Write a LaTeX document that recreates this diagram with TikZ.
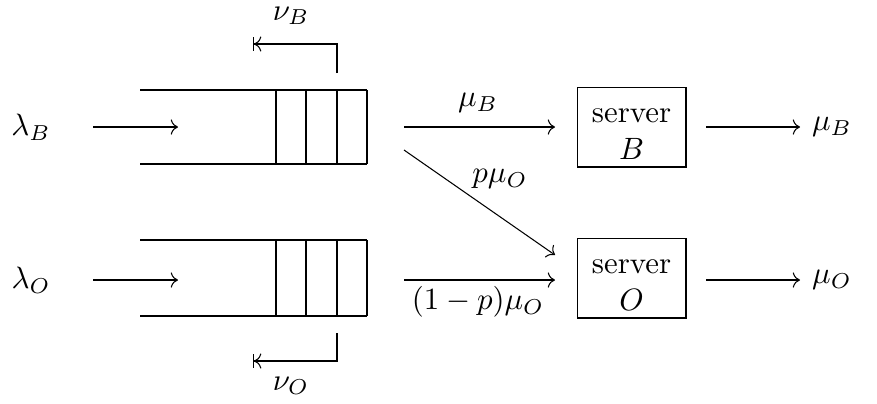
\documentclass[tikz,border=0pt]{standalone}
\usetikzlibrary{arrows.meta}
\begin{document}
\begin{tikzpicture}[x=0.324pt,y=-0.324pt,line width=0.34pt,
  srv/.style={draw,minimum width=35.3pt,minimum height=25.9pt,inner sep=0pt},
  srvtext/.style={align=center,inner sep=0pt},
  lbl/.style={inner sep=1pt},
  flow/.style={->},
  fb/.style={-{To[]Bar[]}}]
\useasboundingbox (0,0) rectangle (877,403);
% queues
\foreach \yt/\yb in {90/164, 240/316}{
  \draw (140,\yt) -- (367,\yt) (140,\yb) -- (367,\yb);
  \foreach \xx in {276,306,337,367} \draw (\xx,\yt) -- (\xx,\yb);
}
% input labels
\node[lbl] (lB) at (31,127) {$\lambda_B$};
\node[lbl] (lO) at (31,280) {$\lambda_O$};
\coordinate (inBs) at (93,127);
\coordinate (inBe) at (178,127);
\coordinate (inOs) at (93,280);
\coordinate (inOe) at (178,280);
\draw[flow] (inBs) -- (inBe);
\draw[flow] (inOs) -- (inOe);
% servers
\node[srv] (sB) at (631.5,127) {};
\node[srvtext] (sBt) at (631.5,134) {server\\$B$};
\node[srv] (sO) at (631.5,278) {};
\node[srvtext] (sOt) at (631.5,285) {server\\$O$};
% queue outputs
\coordinate (qBo) at (404,127);
\coordinate (qBd) at (404,150);
\coordinate (qOo) at (404,280);
\coordinate (sBin) at (555,127);
\coordinate (sOd) at (555,255);
\coordinate (sOin) at (555,280);
\draw[flow] (qBo) -- (sBin);
\draw[flow] (qBd) -- (sOd);
\draw[flow] (qOo) -- (sOin);
\node[lbl] (muBl) at (478,103) {$\mu_B$};
\node[lbl] (pmu) at (500,179) {$p\mu_O$};
\node[lbl] (qmu) at (478,302) {$(1-p)\mu_O$};
% outputs
\node[lbl] (oB) at (832,127) {$\mu_B$};
\node[lbl] (oO) at (832,280) {$\mu_O$};
\coordinate (sBo) at (706,127);
\coordinate (sOo) at (706,280);
\coordinate (oBe) at (800,127);
\coordinate (oOe) at (800,280);
\draw[flow] (sBo) -- (oBe);
\draw[flow] (sOo) -- (oOe);
% feedback
\coordinate (fbBs) at (337,73);
\coordinate (fbBc) at (337,44);
\coordinate (fbBe) at (253,44);
\draw[fb] (fbBs) -- (fbBc) -- (fbBe);
\node[lbl] (nuB) at (291,16) {$\nu_B$};
\coordinate (fbOs) at (337,333);
\coordinate (fbOc) at (337,361);
\coordinate (fbOe) at (253,361);
\draw[fb] (fbOs) -- (fbOc) -- (fbOe);
\node[lbl] (nuO) at (291,386) {$\nu_O$};
\end{tikzpicture}
\end{document}
